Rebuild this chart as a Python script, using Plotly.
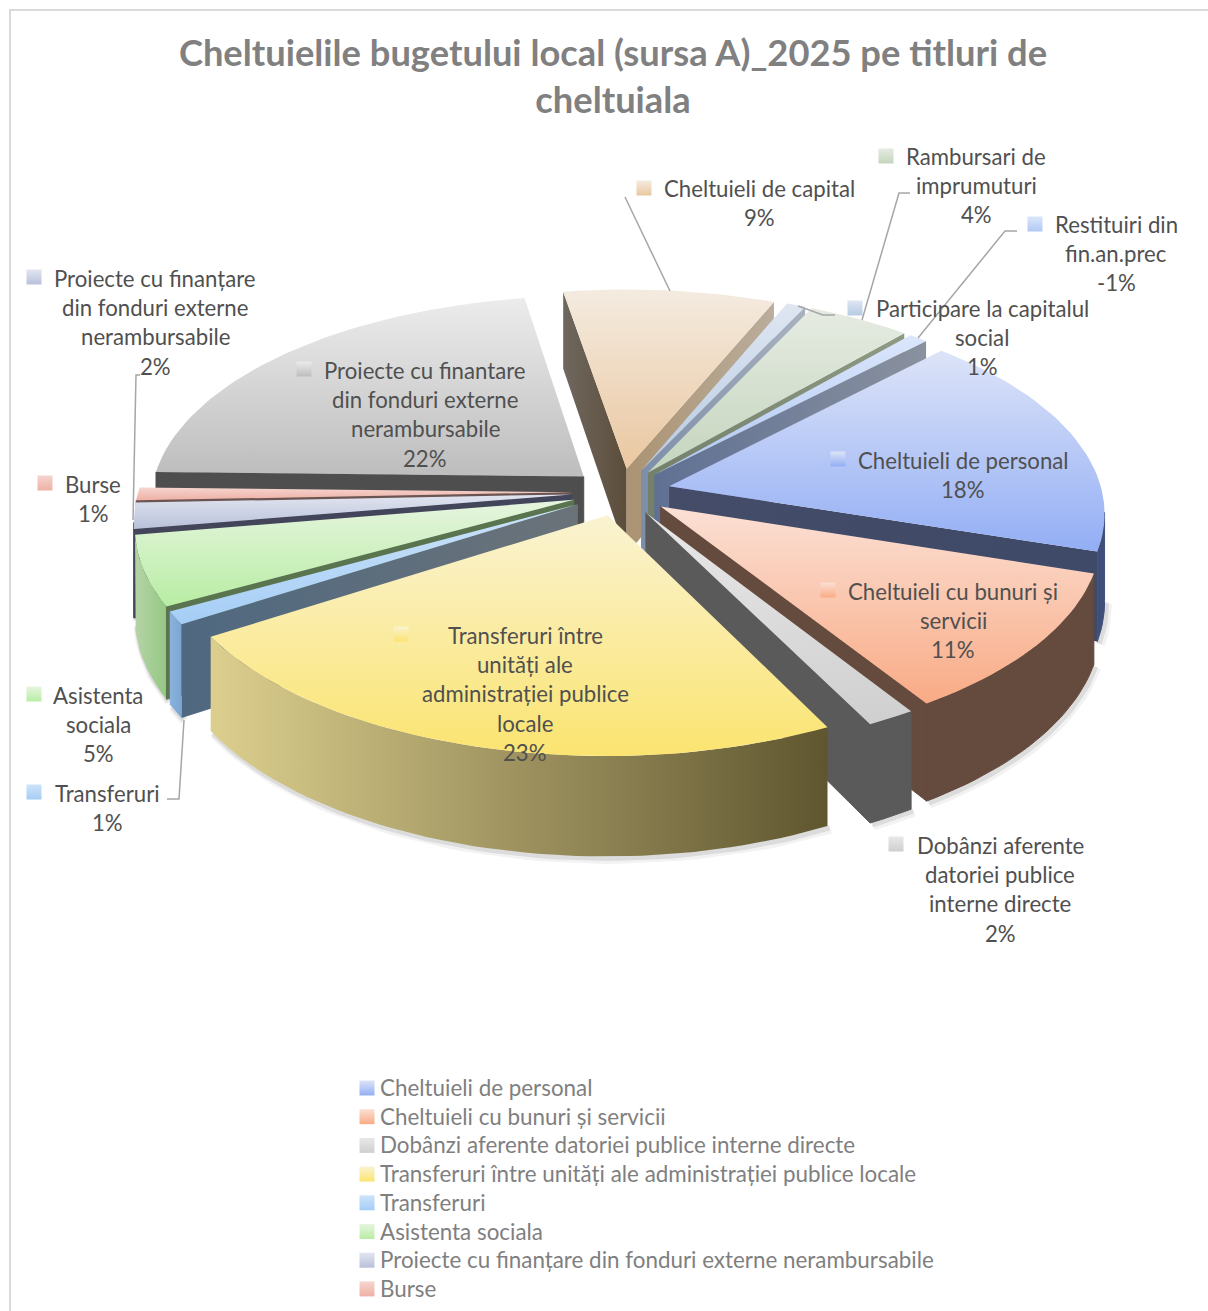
import math
import plotly.graph_objects as go

categories = [
    "Cheltuieli de personal", "Cheltuieli cu bunuri și servicii",
    "Dobânzi aferente datoriei publice interne directe",
    "Transferuri între unități ale administrației publice locale",
    "Transferuri", "Asistenta sociala",
    "Proiecte cu finanțare din fonduri externe nerambursabile", "Burse",
    "Proiecte cu finantare din fonduri externe nerambursabile",
    "Cheltuieli de capital", "Participare la capitalul social",
    "Rambursari de imprumuturi", "Restituiri din fin.an.prec",
]
# labels only show whole percents, decimals
values = [17.75, 11.0, 1.6, 23.4, 1.0, 5.4, 2.0, 1.0, 22.0, 8.9, 0.8, 4.35, -0.8]

# wrapped label text, same order as categories
label_lines = [
    ["Cheltuieli de personal"], ["Cheltuieli cu bunuri și", "servicii"],
    ["Dobânzi aferente", "datoriei publice", "interne directe"],
    ["Transferuri între", "unități ale", "administrației publice", "locale"],
    ["Transferuri"], ["Asistenta", "sociala"],
    ["Proiecte cu finanțare", "din fonduri externe", "nerambursabile"], ["Burse"],
    ["Proiecte cu finantare", "din fonduri externe", "nerambursabile"],
    ["Cheltuieli de capital"], ["Participare la capitalul", "social"],
    ["Rambursari de", "imprumuturi"], ["Restituiri din", "fin.an.prec"],
]
legend_count = 8  # the rest of the legend is cut off by the page

# label placement: centre x, first line y, swatch x, swatch y
label_pos = [
    (963, 460, 838, 459), (953, 591, 828, 590), (1000, 845, 896, 844),
    (525, 635, 401, 634), (107, 793, 34, 792), (98, 695, 34, 694),
    (155, 278, 34, 277), (93, 484, 45, 483), (425, 370, 304, 369),
    (759, 188, 644, 188), (982, 308, 855, 308), (976, 156, 886, 156),
    (1116, 224, 1035, 224),
]

# top face gradient, back edge -> front edge
top_light = ["#dde4f8", "#fbe0d5", "#e8e8e8", "#faf3d2", "#cde4fb", "#e6f5df", "#e2e5f0",
             "#f5d5cf", "#ececec", "#f4ebe0", "#dfe6f2", "#e6ebe2", "#dbe6fb"]
top_dark = ["#93aef5", "#f9ab85", "#cfcfcf", "#fbe470", "#a5cdf5", "#b8eda3", "#b8c1da",
            "#eeb0a5", "#bdbdbd", "#eac7a0", "#b6cbe4", "#c4d5bd", "#b0c8f5"]
# wall colours as (left, right)
wall_start = [("#444c68", "#444c68"), ("#654a3e", "#654a3e"), ("#5a5a5a", "#5a5a5a"),
              ("#8a8560", "#8a8560"), ("#4f6880", "#6b7379"), ("#5a7450", "#5a7450"),
              ("#43465a", "#43465a"), ("#6b5552", "#6b5552"), ("#4e4e4e", "#4e4e4e"),
              ("#6f685f", "#5c4d3a"), ("#7d8ea8", "#a8b2c0"), ("#74806a", "#8f9a85"),
              ("#5f7093", "#8a919f")]
wall_end = [("#444c68", "#3e4a68"), ("#654a3e", "#654a3e"), ("#5a5a5a", "#5a5a5a"),
            ("#8a8560", "#8a8560"), ("#4f6880", "#6b7379"), ("#5a7450", "#5a7450"),
            ("#43465a", "#43465a"), ("#6b5552", "#6b5552"), ("#4e4e4e", "#4e4e4e"),
            ("#ab9372", "#baad9c"), ("#7d8ea8", "#a8b2c0"), ("#74806a", "#8f9a85"),
            ("#5f7093", "#8a919f")]
wall_outer = [("#3f4f7a", "#3f4f7a"), ("#654a3e", "#654a3e"), ("#5a5a5a", "#5a5a5a"),
              ("#dccf8e", "#5f5630"), ("#8ab2dc", "#7ca6d2"), ("#b5d3a6", "#95c884"),
              ("#4a4d5e", "#4a4d5e"), ("#6b5552", "#6b5552"), ("#4e4e4e", "#4e4e4e"),
              ("#6f685f", "#5c4d3a"), ("#7d8ea8", "#a8b2c0"), ("#74806a", "#8f9a85"),
              ("#5f7093", "#8a919f")]

leader_lines = [
    ([140, 136, 133], [375, 375, 520]),
    ([625, 670], [197, 291]),
    ([910, 899, 862], [193, 193, 320]),
    ([1017, 1005, 918], [231, 231, 338]),
    ([798, 823, 835], [306, 315, 315]),
    ([167, 179, 184], [799, 799, 720]),
]

FIRST_ANGLE = 44
EXPLODE = 0.115
CX, CY, RX, RY, DEPTH, PERSP = 621, 492, 433, 206, 87, 0.12
W, H = 1208, 1311


def project(px, py, drop=0):
    s = 1 / (1 + PERSP * py)
    return CX + RX * px * s, CY - RY * py * s + DEPTH * drop * s


def poly_area(xs, ys):
    n = len(xs)
    return sum(xs[i] * ys[(i + 1) % n] - xs[(i + 1) % n] * ys[i] for i in range(n))


fig = go.Figure()


def add_face(xs, ys, colors, orientation="horizontal"):
    # flat walls get an outline of their own colour so no seam shows between them
    edge = dict(width=1, color=colors[0]) if colors[0] == colors[1] else dict(width=0)
    fig.add_trace(go.Scatter(
        x=list(xs) + [xs[0]], y=list(ys) + [ys[0]], mode="lines", fill="toself",
        line=edge, hoverinfo="skip", showlegend=False,
        fillgradient=dict(type=orientation, colorscale=[[0, colors[0]], [1, colors[1]]]),
    ))


def wall(a, b, colors, sign):
    # a, b are plane points; only walls turned towards the viewer get drawn
    xa, ya = project(*a)
    xb, yb = project(*b)
    xc, yc = project(*b, 1)
    xd, yd = project(*a, 1)
    xs, ys = [xa, xb, xc, xd], [ya, yb, yc, yd]
    if poly_area(xs, ys) * sign < 0:
        add_face(xs, ys, colors)


# build the slices from the values
sizes = [abs(v) / sum(abs(x) for x in values) * 360 for v in values]
slices = []
angle = FIRST_ANGLE
for i, size in enumerate(sizes):
    slices.append((i, angle, angle + size))
    angle += size


def depth_key(item):
    _, a0, a1 = item
    return -math.cos(math.radians((a0 + a1) / 2))


for i, a0, a1 in sorted(slices, key=depth_key):
    mid = math.radians((a0 + a1) / 2)
    ox, oy = EXPLODE * math.sin(mid), EXPLODE * math.cos(mid)
    steps = max(3, int((a1 - a0) / 1.5))
    rim = []
    for k in range(steps + 1):
        t = math.radians(a0 + (a1 - a0) * k / steps)
        rim.append((ox + math.sin(t), oy + math.cos(t)))
    apex = (ox, oy)

    top = [project(*apex)] + [project(*p) for p in rim]
    top_x = [p[0] for p in top]
    top_y = [p[1] for p in top]
    sign = 1 if poly_area(top_x, top_y) > 0 else -1

    # outer wall: the visible run of the rim
    visible = []
    for k in range(steps):
        xa, ya = project(*rim[k])
        xb, yb = project(*rim[k + 1])
        xc, yc = project(*rim[k + 1], 1)
        xd, yd = project(*rim[k], 1)
        if poly_area([xa, xb, xc, xd], [ya, yb, yc, yd]) * sign < 0:
            visible.append(k)
    if visible:
        run = rim[visible[0]:visible[-1] + 2]
        low = [project(*p, 1) for p in run]
        # soft shadow under the wall
        for width, alpha, shift in [(9, 0.05, 3), (5, 0.09, 2)]:
            fig.add_trace(go.Scatter(
                x=[p[0] + shift for p in low], y=[p[1] + shift for p in low], mode="lines",
                line=dict(color=f"rgba(0,0,0,{alpha})", width=width), hoverinfo="skip", showlegend=False,
            ))
        up = [project(*p) for p in run]
        add_face([p[0] for p in up] + [p[0] for p in reversed(low)],
                 [p[1] for p in up] + [p[1] for p in reversed(low)], wall_outer[i])

    wall(apex, rim[0], wall_start[i], sign)
    wall(rim[-1], apex, wall_end[i], sign)
    add_face(top_x, top_y, (top_dark[i], top_light[i]), "vertical")

for xs, ys in leader_lines:
    fig.add_trace(go.Scatter(x=xs, y=ys, mode="lines", line=dict(color="#a6a6a6", width=1.5),
                             hoverinfo="skip", showlegend=False))

# legend keys and label keys
legend_y = [1088 + 28.7 * i for i in range(legend_count)]
key_x = [p[2] for p in label_pos] + [367] * legend_count
key_y = [p[3] for p in label_pos] + legend_y
key_top = top_light + top_light[:legend_count]
key_low = top_dark + top_dark[:legend_count]
fig.add_trace(go.Scatter(
    x=key_x, y=key_y, mode="markers", hoverinfo="skip", showlegend=False,
    marker=dict(symbol="square", size=15, color=key_top, line=dict(width=0),
                gradient=dict(type="vertical", color=key_low)),
))

annotations = []
for i, lines in enumerate(label_lines):
    cx, y0, _, _ = label_pos[i]
    for j, line in enumerate(lines + [f"{round(values[i])}%"]):
        annotations.append(dict(
            x=cx, y=y0 + j * 29.4, text=line, showarrow=False, xanchor="center", yanchor="middle",
            font=dict(size=22.2, color="#505050"),
        ))
for i in range(legend_count):
    annotations.append(dict(
        x=378, y=legend_y[i] - 0.5, text=categories[i], showarrow=False, xanchor="left", yanchor="middle",
        font=dict(size=22.4, color="#7f7f7f"),
    ))

fig.update_layout(
    width=W, height=H, margin=dict(l=0, r=0, t=0, b=0),
    paper_bgcolor="white", plot_bgcolor="white", showlegend=False,
    font=dict(family="Lato"),
    title=dict(
        text="Cheltuielile bugetului local (sursa A)_2025 pe titluri de<br>cheltuiala",
        x=613 / W, xanchor="center", y=1 - 66 / H, yanchor="middle",
        font=dict(size=36.3, color="#808080", family="Lato", weight="bold"),
    ),
    xaxis=dict(range=[0, W], visible=False, fixedrange=True),
    yaxis=dict(range=[H, 0], visible=False, fixedrange=True),
    annotations=annotations,
    shapes=[dict(type="rect", x0=10, y0=10, x1=W + 20, y1=H + 20,
                 line=dict(color="#d9d9d9", width=2), layer="below")],
)
fig.write_html("out.html", config={"displayModeBar": False},
               post_script="document.body.style.margin='0';")
